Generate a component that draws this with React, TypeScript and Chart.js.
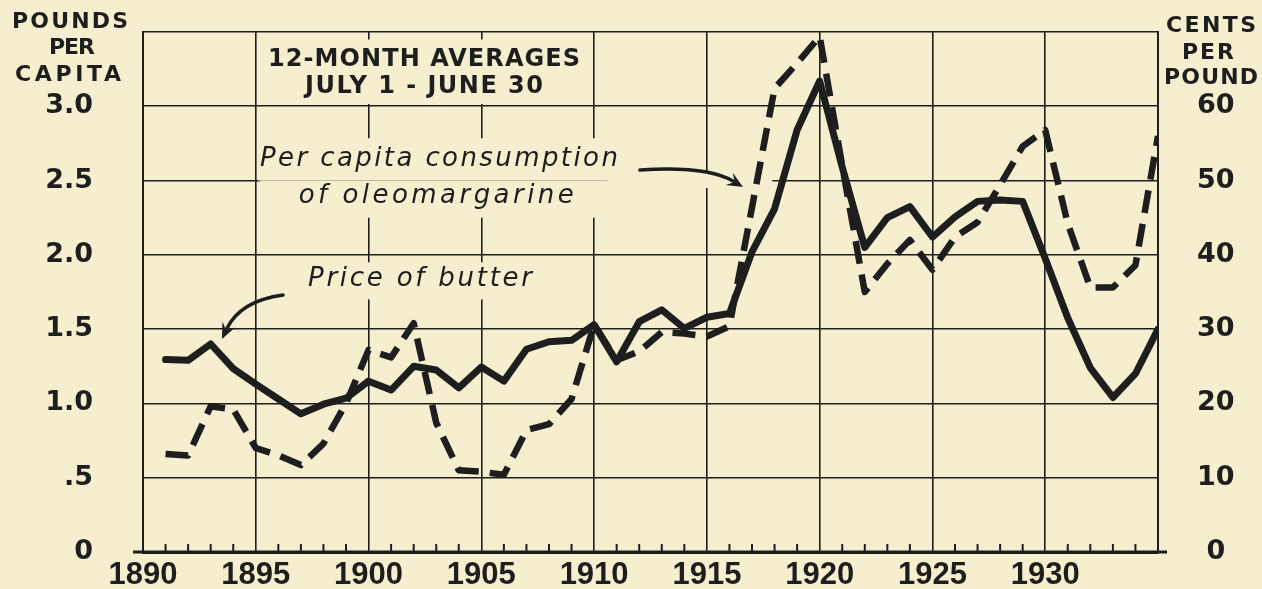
import React, { useEffect, useRef } from 'react';
import { Chart, registerables } from 'chart.js';

Chart.register(...registerables);

// ---- Data ----
const years = [
  1891, 1892, 1893, 1894, 1895, 1896, 1897, 1898, 1899, 1900,
  1901, 1902, 1903, 1904, 1905, 1906, 1907, 1908, 1909, 1910,
  1911, 1912, 1913, 1914, 1915, 1916, 1917, 1918, 1919, 1920,
  1921, 1922, 1923, 1924, 1925, 1926, 1927, 1928, 1929, 1930,
  1931, 1932, 1933, 1934, 1935,
];

// Price of butter, cents per pound (right axis)
const butterPrice = [
  25.9, 25.8, 28.0, 24.7, 22.6, 20.6, 18.6, 19.9, 20.7, 23.0,
  21.8, 25.0, 24.5, 22.1, 24.9, 23.0, 27.3, 28.3, 28.5, 30.6,
  25.6, 31.0, 32.6, 30.1, 31.6, 32.1, 40.4, 46.2, 56.8, 63.4,
  51.8, 41.0, 45.0, 46.5, 42.4, 45.1, 47.2, 47.4, 47.2, 39.5,
  31.5, 24.8, 20.8, 24.0, 30.0,
];

// Per capita consumption of oleomargarine, pounds (left axis)
const oleoConsumption = [
  0.66, 0.65, 0.98, 0.96, 0.70, 0.65, 0.585, 0.73, 1.00, 1.36,
  1.31, 1.54, 0.87, 0.55, 0.54, 0.52, 0.82, 0.86, 1.03, 1.53,
  1.29, 1.35, 1.48, 1.47, 1.45, 1.52, 2.32, 3.12, 3.29, 3.47,
  2.60, 1.75, 1.94, 2.10, 1.90, 2.12, 2.22, 2.47, 2.73, 2.84,
  2.21, 1.78, 1.78, 1.93, 2.80,
];

const xLabelYears = [1890, 1895, 1900, 1905, 1910, 1915, 1920, 1925, 1930];
const leftTickLabels = ['0', '.5', '1.0', '1.5', '2.0', '2.5', '3.0', ''];
const rightTickLabels = ['0', '10', '20', '30', '40', '50', '60', ''];

const leftTitle = ['POUNDS', 'PER', 'CAPITA'];
const rightTitle = ['CENTS', 'PER', 'POUND'];
const noteLines = ['12-MONTH AVERAGES', 'JULY 1 - JUNE 30'];
const oleoLabel = ['Per capita consumption', 'of oleomargarine'];
const butterLabel = 'Price of butter';

const BG = '#f5efcf';
const INK = '#1e1e1e';

function fitText(ctx: CanvasRenderingContext2D, text: string, cx: number, cy: number, font: string, width: number) {
  ctx.save();
  ctx.font = font;
  ctx.textBaseline = 'middle';
  ctx.textAlign = 'left';
  ctx.fillStyle = INK;
  const n = Array.from(text).length;
  const w0 = ctx.measureText(text).width;
  const anyCtx = ctx as any;
  if ('letterSpacing' in anyCtx && n > 1) {
    const ls = (width - w0) / (n - 1);
    anyCtx.letterSpacing = ls.toFixed(2) + 'px';
    ctx.fillText(text, cx - width / 2, cy);
    anyCtx.letterSpacing = '0px';
  } else {
    ctx.translate(cx - width / 2, cy);
    ctx.scale(width / w0, 1);
    ctx.fillText(text, 0, 0);
  }
  ctx.restore();
}

function drawArrow(ctx: CanvasRenderingContext2D, p0: any, c: any, p1: any) {
  const ang = Math.atan2(p1.y - c.y, p1.x - c.x);
  const L = 16, W = 7;
  const bx = p1.x - L * 0.7 * Math.cos(ang);
  const by = p1.y - L * 0.7 * Math.sin(ang);
  ctx.save();
  ctx.strokeStyle = INK;
  ctx.fillStyle = INK;
  ctx.lineWidth = 3.5;
  ctx.lineCap = 'round';
  ctx.beginPath();
  ctx.moveTo(p0.x, p0.y);
  ctx.quadraticCurveTo(c.x, c.y, bx, by);
  ctx.stroke();
  ctx.beginPath();
  ctx.moveTo(p1.x, p1.y);
  ctx.lineTo(p1.x - L * Math.cos(ang) + W * Math.sin(ang), p1.y - L * Math.sin(ang) - W * Math.cos(ang));
  ctx.lineTo(p1.x - L * 0.6 * Math.cos(ang), p1.y - L * 0.6 * Math.sin(ang));
  ctx.lineTo(p1.x - L * Math.cos(ang) - W * Math.sin(ang), p1.y - L * Math.sin(ang) + W * Math.cos(ang));
  ctx.closePath();
  ctx.fill();
  ctx.restore();
}

const annotatePlugin = {
  id: 'annotate',
  beforeDraw(chart: any) {
    const ctx = chart.ctx;
    ctx.save();
    ctx.fillStyle = BG;
    ctx.fillRect(0, 0, chart.width, chart.height);
    ctx.restore();
  },
  beforeDatasetsDraw(chart: any) {
    const ctx = chart.ctx;
    const x = chart.scales.x;
    const y = chart.scales.y;
    const P = (yr: number, v: number) => ({ x: x.getPixelForValue(yr), y: y.getPixelForValue(v) });
    ctx.save();
    ctx.fillStyle = BG;
    const rect = (a: any, b: any) => ctx.fillRect(a.x, a.y, b.x - a.x, b.y - a.y);
    // note box (between 1895 and 1910, top row)
    rect(P(1895.12, 3.45), P(1909.88, 3.015));
    // oleomargarine label
    rect(P(1895.1, 2.785), P(1911.6, 2.50));
    rect(P(1895.2, 2.50), P(1910.6, 2.25));
    rect(P(1910.6, 2.56), P(1917.9, 2.45));
    // butter label
    rect(P(1897.2, 1.95), P(1907.9, 1.70));
    ctx.restore();
  },
  afterDatasetsDraw(chart: any) {
    const ctx = chart.ctx;
    const x = chart.scales.x;
    const y = chart.scales.y;
    const area = chart.chartArea;
    const P = (yr: number, v: number) => ({ x: x.getPixelForValue(yr), y: y.getPixelForValue(v) });

    // minor year ticks pointing up from the axis
    ctx.save();
    ctx.strokeStyle = INK;
    ctx.lineWidth = 2;
    for (let yr = 1891; yr < 1935; yr++) {
      if (yr % 5 === 0) continue;
      const px = x.getPixelForValue(yr);
      ctx.beginPath();
      ctx.moveTo(px, area.bottom);
      ctx.lineTo(px, area.bottom - 8);
      ctx.stroke();
    }
    // axis line extension
    ctx.lineWidth = 3;
    ctx.beginPath();
    ctx.moveTo(area.left - 10, area.bottom);
    ctx.lineTo(area.right + 9, area.bottom);
    ctx.stroke();
    ctx.restore();

    // note text
    const n1 = P(1902.46, 3.311);
    const n2 = P(1902.46, 3.13);
    fitText(ctx, noteLines[0], n1.x, n1.y, "bold 24px 'DejaVu Sans'", 312);
    fitText(ctx, noteLines[1], n2.x, n2.y, "bold 24px 'DejaVu Sans'", 238);

    // oleomargarine label
    const o1 = P(1903.12, 2.645);
    const o2 = P(1903.0, 2.395);
    fitText(ctx, oleoLabel[0], o1.x, o1.y, "italic 26px 'DejaVu Sans'", 358);
    fitText(ctx, oleoLabel[1], o2.x, o2.y, "italic 26px 'DejaVu Sans'", 275);

    // butter label
    const b1 = P(1902.28, 1.835);
    fitText(ctx, butterLabel, b1.x, b1.y, "italic 26px 'DejaVu Sans'", 224);

    // arrows
    drawArrow(ctx, P(1896.21, 1.73), P(1894.3, 1.69), P(1893.5, 1.434));
    drawArrow(ctx, P(1912.03, 2.571), P(1915.0, 2.60), P(1916.6, 2.457));

    // corner axis titles
    const lf = "bold 22px 'DejaVu Sans'";
    fitText(ctx, leftTitle[0], 70, 22, lf, 116);
    fitText(ctx, leftTitle[1], 72, 48, lf, 46);
    fitText(ctx, leftTitle[2], 68, 75, lf, 106);
    fitText(ctx, rightTitle[0], 1211, 26, lf, 90);
    fitText(ctx, rightTitle[1], 1208, 53, lf, 52);
    fitText(ctx, rightTitle[2], 1211, 78, lf, 94);
  },
};

export default function App() {
  const canvasRef = useRef<HTMLCanvasElement | null>(null);

  useEffect(() => {
    document.body.style.margin = '0';
    document.body.style.background = BG;
    const canvas = canvasRef.current;
    if (!canvas) return;
    const chart = new Chart(canvas, {
      type: 'line',
      data: {
        datasets: [
          {
            label: 'Per capita consumption of oleomargarine',
            data: years.map((yr, i) => ({ x: yr, y: oleoConsumption[i] })),
            yAxisID: 'y',
            borderColor: INK,
            borderWidth: 6.5,
            borderDash: [23, 11],
            borderCapStyle: 'butt',
            borderJoinStyle: 'round',
            pointRadius: 0,
            tension: 0,
            fill: false,
          },
          {
            label: 'Price of butter',
            data: years.map((yr, i) => ({ x: yr, y: butterPrice[i] })),
            yAxisID: 'y1',
            borderColor: INK,
            borderWidth: 7,
            borderCapStyle: 'round',
            borderJoinStyle: 'round',
            pointRadius: 0,
            tension: 0,
            fill: false,
          },
        ],
      },
      options: {
        animation: false,
        responsive: false,
        devicePixelRatio: 1,
        layout: { padding: { top: 32, left: 0, right: 0, bottom: 0 } },
        plugins: {
          legend: { display: false },
          tooltip: { enabled: false },
          title: { display: false },
        },
        scales: {
          x: {
            type: 'linear',
            min: 1890,
            max: 1935,
            afterFit: (s: any) => { s.height = 37; s.paddingLeft = 0; s.paddingRight = 0; },
            grid: {
              drawTicks: false,
              lineWidth: 1.6,
              color: (c: any) => (c.tick && c.tick.value % 5 === 0 ? INK : 'rgba(0,0,0,0)'),
            },
            border: { display: true, color: INK, width: 3 },
            ticks: {
              stepSize: 1,
              autoSkip: false,
              maxRotation: 0,
              minRotation: 0,
              padding: 5,
              color: INK,
              font: { family: "'Liberation Sans', Arial, sans-serif", size: 31, weight: 'bold' },
              callback: (v: any) => (xLabelYears.includes(Number(v)) ? String(v) : ''),
            },
          },
          y: {
            type: 'linear',
            position: 'left',
            min: 0,
            max: 3.5,
            afterFit: (s: any) => { s.width = 143; s.paddingTop = 0; s.paddingBottom = 0; },
            grid: { drawTicks: false, lineWidth: 1.6, color: INK },
            border: { display: true, color: INK, width: 2 },
            ticks: {
              stepSize: 0.5,
              padding: 50,
              color: INK,
              font: { family: "'DejaVu Sans', sans-serif", size: 27, weight: 'bold' },
              callback: (_v: any, i: number) => leftTickLabels[i] ?? '',
            },
          },
          y1: {
            type: 'linear',
            position: 'right',
            min: 0,
            max: 70,
            afterFit: (s: any) => { s.width = 104; s.paddingTop = 0; s.paddingBottom = 0; },
            grid: { display: false, drawTicks: false },
            border: { display: true, color: INK, width: 2 },
            ticks: {
              stepSize: 10,
              padding: 39,
              crossAlign: 'center',
              color: INK,
              font: { family: "'DejaVu Sans', sans-serif", size: 27, weight: 'bold' },
              callback: (_v: any, i: number) => rightTickLabels[i] ?? '',
            },
          },
        },
      } as any,
      plugins: [annotatePlugin],
    });
    return () => chart.destroy();
  }, []);

  return (
    <div style={{ position: 'fixed', left: 0, top: 0, width: 1262, height: 589, background: BG }}>
      <canvas ref={canvasRef} width={1262} height={589} style={{ display: 'block', width: 1262, height: 589 }} />
    </div>
  );
}
